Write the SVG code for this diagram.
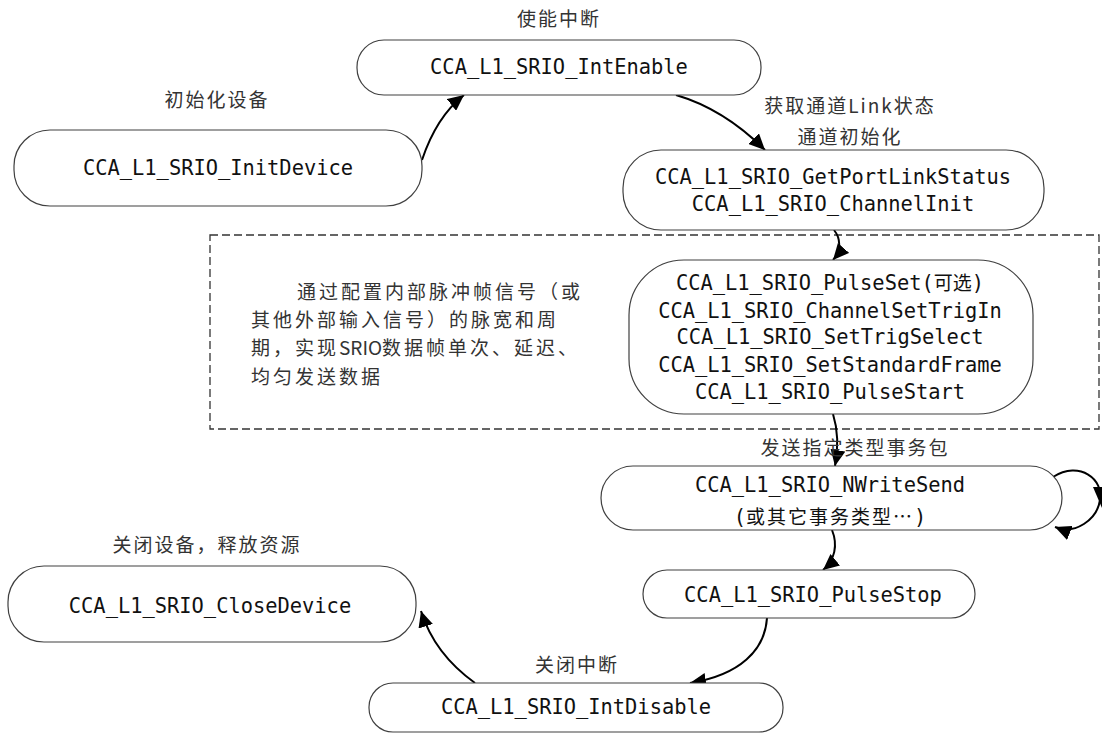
<svg xmlns="http://www.w3.org/2000/svg" width="1102" height="733" viewBox="0 0 1102 733">
<style>
.node{fill:#fff;stroke:#404040;stroke-width:1.2}
.mono{font-family:"DejaVu Sans Mono","Liberation Mono",monospace;font-size:20.4px;fill:#111;text-anchor:middle}
.lbl{font-family:"Noto Sans CJK SC","Noto Sans",sans-serif;font-size:19px;fill:#333;text-anchor:middle;letter-spacing:2px}
.para{font-family:"Noto Sans CJK SC","Noto Sans",sans-serif;font-size:19px;fill:#333;letter-spacing:3px}
.edge{fill:none;stroke:#000;stroke-width:2}
</style>
<defs>
<marker id="arr" markerUnits="userSpaceOnUse" markerWidth="17" markerHeight="15" refX="16" refY="7.5" orient="auto">
<path d="M0,0 L16,7.5 L0,15 Z" fill="#000"/>
</marker>
</defs>
<rect x="210" y="235" width="889" height="194" fill="none" stroke="#333" stroke-width="1.3" stroke-dasharray="8,4"/>
<g id="note">
<text class="para" x="297" y="299">通过配置内部脉冲帧信号（或</text>
<text class="para" x="251" y="327">其他外部输入信号）的脉宽和周</text>
<text class="para" x="251" y="355">期，实现<tspan letter-spacing="0">SRIO</tspan>数据帧单次、延迟、</text>
<text class="para" x="251" y="384">均匀发送数据</text>
</g>
<g id="connectors">
<path class="edge" d="M422,160 C432,130 445,110 464,95" marker-end="url(#arr)"/>
<path class="edge" d="M676,95 C710,105 740,125 765,150" marker-end="url(#arr)"/>
<path class="edge" d="M834,230 C842,240 840,252 833,260" marker-end="url(#arr)"/>
<path class="edge" d="M833,414 C838,430 838,450 835,466" marker-end="url(#arr)"/>
<path class="edge" d="M1053,477 C1080,460 1104,480 1100,500 C1097,520 1075,535 1055,527" marker-end="url(#arr)"/>
<path d="M1093,487 L1102,487 L1102,508 Z" fill="#000"/>
<path class="edge" d="M832,530 C838,545 835,560 823,570" marker-end="url(#arr)"/>
<path class="edge" d="M767,618 C765,650 740,675 690,683" marker-end="url(#arr)"/>
<path class="edge" d="M475,683 C450,665 430,640 421,611" marker-end="url(#arr)"/>
</g>
<g id="n_intenable">
<rect class="node" x="357" y="40" width="404" height="55" rx="27" ry="27"/>
<text class="mono" x="559" y="74">CCA_L1_SRIO_IntEnable</text>
<text class="lbl" x="559" y="26">使能中断</text>
</g>
<g id="n_initdevice">
<rect class="node" x="14" y="130" width="408" height="76" rx="36" ry="36"/>
<text class="mono" x="218" y="175">CCA_L1_SRIO_InitDevice</text>
<text class="lbl" x="217" y="107">初始化设备</text>
</g>
<g id="n_getportlink">
<rect class="node" x="623" y="150" width="421" height="80" rx="38" ry="38"/>
<text class="mono" x="833" y="184">CCA_L1_SRIO_GetPortLinkStatus</text>
<text class="mono" x="833" y="211">CCA_L1_SRIO_ChannelInit</text>
<text class="lbl" x="850" y="113">获取通道Link状态</text>
<text class="lbl" x="850" y="144">通道初始化</text>
</g>
<g id="n_pulseset">
<rect class="node" x="629" y="260" width="404" height="154" rx="55" ry="55"/>
<text class="mono" x="830" y="290">CCA_L1_SRIO_PulseSet(<tspan font-family="Noto Sans CJK SC" font-size="19">可选</tspan>)</text>
<text class="mono" x="830" y="318">CCA_L1_SRIO_ChannelSetTrigIn</text>
<text class="mono" x="830" y="344">CCA_L1_SRIO_SetTrigSelect</text>
<text class="mono" x="830" y="372">CCA_L1_SRIO_SetStandardFrame</text>
<text class="mono" x="830" y="399">CCA_L1_SRIO_PulseStart</text>
</g>
<g id="n_nwrite">
<rect class="node" x="601" y="466" width="461" height="64" rx="32" ry="32"/>
<text class="mono" x="830" y="492">CCA_L1_SRIO_NWriteSend</text>
<text class="mono" x="830" y="524">(<tspan font-family="Noto Sans CJK SC" font-size="19" letter-spacing="2">或其它事务类型…</tspan>)</text>
<text class="lbl" x="855" y="455">发送指定类型事务包</text>
</g>
<g id="n_pulsestop">
<rect class="node" x="643" y="570" width="332" height="48" rx="24" ry="24"/>
<text class="mono" x="813" y="602">CCA_L1_SRIO_PulseStop</text>
</g>
<g id="n_intdisable">
<rect class="node" x="369" y="683" width="414" height="49" rx="24" ry="24"/>
<text class="mono" x="576" y="714">CCA_L1_SRIO_IntDisable</text>
<text class="lbl" x="577" y="672">关闭中断</text>
</g>
<g id="n_closedevice">
<rect class="node" x="8" y="566" width="408" height="76" rx="36" ry="36"/>
<text class="mono" x="210" y="613">CCA_L1_SRIO_CloseDevice</text>
<text class="lbl" x="207" y="552">关闭设备，释放资源</text>
</g>
</svg>
